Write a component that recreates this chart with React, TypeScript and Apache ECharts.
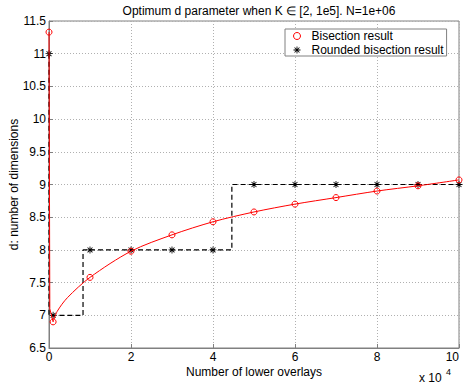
import React, { useEffect, useRef } from 'react';
import * as echarts from 'echarts';

const titleText = 'Optimum d parameter when K \u2208 [2, 1e5]. N=1e+06';
const xAxisName = 'Number of lower overlays';
const yAxisName = 'd: number of dimensions';
const seriesNames = ['Bisection result', 'Rounded bisection result'];

// x in units of 1e4
const bisectionX = [0, 0.02, 0.1, 0.2, 0.45, 1, 2, 3, 4, 5, 6, 7, 8, 9, 10];
const bisectionY = [11.33, 7.1, 6.9, 7.06, 7.27, 7.58, 7.98, 8.23, 8.43, 8.58, 8.7, 8.8, 8.9, 8.98, 9.07];
const bisectionMarked = [true, false, true, false, false, true, true, true, true, true, true, true, true, true, true];
const steepEnd = 2; // index where the near-vertical drop ends

const roundedX = [0, 0, 0.1, 0.83, 0.83, 1, 2, 3, 4, 4.46, 4.46, 5, 6, 7, 8, 9, 10];
const roundedY = [11, 7, 7, 7, 8, 8, 8, 8, 8, 8, 9, 9, 9, 9, 9, 9, 9];
const roundedMarked = [true, false, true, false, false, true, true, true, true, false, false, true, true, true, true, true, true];

const FONT = '"Liberation Sans", Arial, Helvetica, sans-serif';
const ASTERISK =
  'path://M0 4.4H10V5.6H0Z M4.4 0H5.6V10H4.4Z M1.08 1.92L1.92 1.08L8.92 8.08L8.08 8.92Z M8.08 1.08L8.92 1.92L1.92 8.92L1.08 8.08Z';

export default function App() {
  const ref = useRef<HTMLDivElement>(null);
  useEffect(() => {
    if (!ref.current) return;
    const chart = echarts.init(ref.current, undefined, { renderer: 'svg' });
    const item = (x: number, y: number, marked: boolean) =>
      marked ? { value: [x, y] } : { value: [x, y], symbol: 'none' };
    const redSteep = bisectionX
      .slice(0, steepEnd + 1)
      .map((x, i) => item(x, bisectionY[i], bisectionMarked[i]));
    const redCurve = bisectionX
      .slice(steepEnd)
      .map((x, j) => item(x, bisectionY[j + steepEnd], j === 0 ? false : bisectionMarked[j + steepEnd]));
    const blackData = roundedX.map((x, i) => item(x, roundedY[i], roundedMarked[i]));
    const redCommon = {
      name: seriesNames[0],
      type: 'line',
      symbol: 'circle',
      symbolSize: 6,
      itemStyle: { color: 'rgba(0,0,0,0)', borderColor: '#ff0000', borderWidth: 1 },
      lineStyle: { color: '#ff0000', width: 1 },
      z: 3,
    };
    chart.setOption({
      animation: false,
      backgroundColor: '#fff',
      title: {
        text: titleText,
        left: 254,
        textAlign: 'center',
        top: 0,
        textStyle: { fontFamily: FONT, fontSize: 12, fontWeight: 'normal', color: '#000' },
      },
      grid: {
        left: 49,
        right: 5,
        top: 21,
        bottom: 39,
        containLabel: false,
        outerBoundsMode: 'none',
        show: true,
        borderColor: '#808080',
        borderWidth: 1,
      },
      legend: {
        orient: 'vertical',
        left: 285,
        top: 29,
        backgroundColor: '#fff',
        borderColor: '#808080',
        borderWidth: 1,
        borderRadius: 0,
        padding: [1, 3, 0, 8],
        itemGap: 2,
        itemWidth: 7,
        itemHeight: 7,
        textStyle: { fontFamily: FONT, fontSize: 12, color: '#000', padding: [0, 0, 0, 6] },
        data: [
          { name: seriesNames[0], icon: 'circle', itemStyle: { color: '#fff', borderColor: '#ff0000', borderWidth: 1 } },
          { name: seriesNames[1], icon: ASTERISK, itemStyle: { color: '#000', borderWidth: 0 } },
        ],
      },
      xAxis: {
        type: 'value',
        min: 0,
        max: 10,
        interval: 2,
        name: xAxisName,
        nameLocation: 'middle',
        nameGap: 18,
        nameMoveOverlap: false,
        nameTextStyle: { fontFamily: FONT, fontSize: 12, color: '#000' },
        axisLine: { lineStyle: { color: '#808080', width: 1 } },
        axisTick: { inside: true, length: 4, lineStyle: { color: '#808080' } },
        axisLabel: { fontFamily: FONT, fontSize: 12, color: '#000', margin: 3, alignMaxLabel: 'right' },
        splitLine: { show: true, lineStyle: { color: '#b0b0b0', type: [1, 2], width: 1 } },
      },
      yAxis: {
        type: 'value',
        min: 6.5,
        max: 11.5,
        interval: 0.5,
        name: yAxisName,
        nameLocation: 'middle',
        nameGap: 29,
        nameMoveOverlap: false,
        nameTextStyle: { fontFamily: FONT, fontSize: 12, color: '#000' },
        axisLine: { show: true, lineStyle: { color: '#808080', width: 1 } },
        axisTick: { show: true, inside: true, length: 4, lineStyle: { color: '#808080' } },
        axisLabel: { fontFamily: FONT, fontSize: 12, color: '#000', margin: 3 },
        splitLine: { show: true, lineStyle: { color: '#b0b0b0', type: [1, 2], width: 1 } },
      },
      graphic: [
        { type: 'text', left: 419, top: 372, style: { text: 'x 10', fontFamily: FONT, fontSize: 12, fill: '#000' } },
        { type: 'text', left: 446, top: 367, style: { text: '4', fontFamily: FONT, fontSize: 9, fill: '#000' } },
      ],
      series: [
        {
          name: seriesNames[1],
          type: 'line',
          data: blackData,
          symbol: ASTERISK,
          symbolSize: 7,
          itemStyle: { color: '#000', borderWidth: 0 },
          lineStyle: { color: '#000', width: 1.2, type: [5, 3] },
          z: 2,
        },
        { ...redCommon, data: redSteep },
        { ...redCommon, data: redCurve, smooth: 0.3 },
      ],
    });
    return () => chart.dispose();
  }, []);
  return <div ref={ref} style={{ position: 'fixed', left: 0, top: 0, width: 464, height: 387 }} />;
}
